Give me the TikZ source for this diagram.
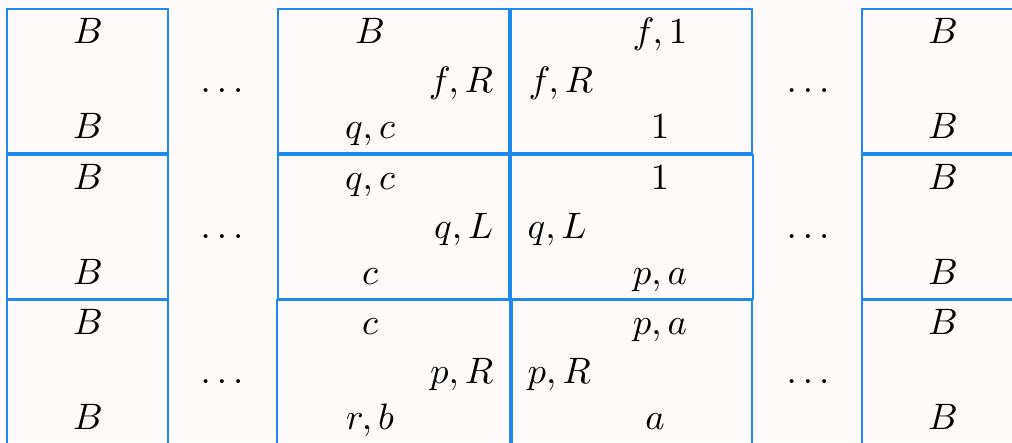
\documentclass[tikz,border=0pt]{standalone}
\usepackage{tikz}
\definecolor{bgcol}{RGB}{253,250,249}
\definecolor{tileblue}{RGB}{30,136,240}
\tikzset{
  tileline/.style={draw=tileblue, line width=0.45pt},
  lab/.style={inner sep=0pt, anchor=base},
  labw/.style={lab, anchor=base west},
  labe/.style={lab, anchor=base east},
}
\begin{document}
\begin{tikzpicture}[x=0.272pt, y=-0.272pt]
\useasboundingbox (0,0) rectangle (1012,442);
\fill[bgcol] (0,0) rectangle (1012,442);
\clip (0,0) rectangle (1012,442);
% tiles
\foreach \ya/\yb in {9/153, 155/299, 300/446}{
  \draw[tileline] (7,\ya) rectangle (168,\yb);
  \draw[tileline] (862,\ya) rectangle (1020,\yb);
}
\draw[tileline] (278,9) rectangle (509,153);
\draw[tileline] (511,9) rectangle (752,153);
\draw[tileline] (278,155) rectangle (509,299);
\draw[tileline] (511,155) rectangle (753,299);
\draw[tileline] (277,300) rectangle (510,446);
\draw[tileline] (512,300) rectangle (752,446);
% column 1 and 6
\foreach \r/\t/\m/\b in {1/43/92/138, 2/189/238/284, 3/334/383/429}{
  \node[lab] (a\r t) at (88,\t) {$B$};
  \node[lab] (a\r b) at (88,\b) {$B$};
  \node[lab] (d\r) at (222,\m) {$\ldots$};
  \node[lab] (e\r) at (808,\m) {$\ldots$};
  \node[lab] (f\r t) at (943,\t) {$B$};
  \node[lab] (f\r b) at (943,\b) {$B$};
}
% column 3
\node[lab]  (c1t) at (370,43)  {$B$};
\node[labe] (c1r) at (494,92)  {$f, R$};
\node[lab]  (c1b) at (370,138) {$q, c$};
\node[lab]  (c2t) at (370,189) {$q, c$};
\node[labe] (c2r) at (494,238) {$q, L$};
\node[lab]  (c2b) at (370,284) {$c$};
\node[lab]  (c3t) at (370,334) {$c$};
\node[labe] (c3r) at (494,383) {$p, R$};
\node[lab]  (c3b) at (370,429) {$r, b$};
% column 4
\node[lab]  (g1t) at (660,43)  {$f, 1$};
\node[labw] (g1l) at (528,92)  {$f, R$};
\node[lab]  (g1b) at (660,138) {$1$};
\node[lab]  (g2t) at (660,189) {$1$};
\node[labw] (g2l) at (527,238) {$q, L$};
\node[lab]  (g2b) at (660,284) {$p, a$};
\node[lab]  (g3t) at (660,334) {$p, a$};
\node[labw] (g3l) at (527,383) {$p, R$};
\node[lab]  (g3b) at (655,429) {$a$};
\end{tikzpicture}
\end{document}
